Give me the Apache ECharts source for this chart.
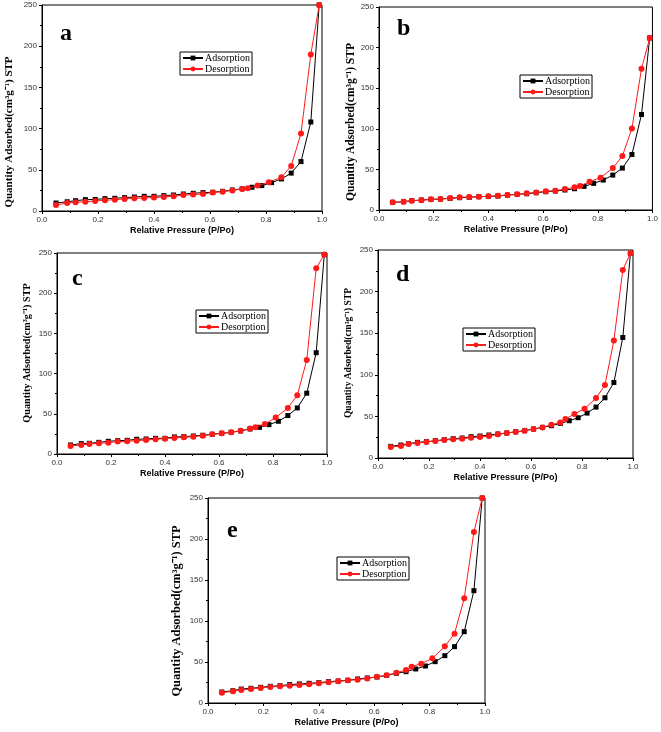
<!DOCTYPE html>
<html><head><meta charset="utf-8">
<script src="https://cdn.jsdelivr.net/npm/echarts@6/dist/echarts.min.js"></script>
<style>html,body{margin:0;padding:0;background:#fff}#c{width:661px;height:732px}</style>
</head><body><div id="c"></div>
<script>
// Relative pressure (P/Po)
const P_ADS = [0.05,0.09,0.12,0.155,0.19,0.225,0.26,0.295,0.33,0.365,0.40,0.435,0.47,0.505,0.54,0.575,0.61,0.645,0.68,0.715,0.75,0.785,0.82,0.855,0.89,0.925,0.96,0.99];
const P_DES = [0.05,0.09,0.12,0.155,0.19,0.225,0.26,0.295,0.33,0.365,0.40,0.435,0.47,0.505,0.54,0.575,0.61,0.645,0.68,0.715,0.735,0.77,0.81,0.855,0.89,0.925,0.96,0.99];

const A_ADS = [9.7,11.2,12.5,13.8,14,15,15.4,16.2,17,17.8,17.8,18.6,19.4,20.6,21.5,22.3,22.7,23.9,25.5,27,28.8,30.8,34.4,38.9,46,60,108,250];
const A_DES = [7.3,9.7,10.5,11.3,12.2,13,13.8,14.6,15.4,15.8,16.4,17,17.8,19.4,19.9,20.7,22.3,23.5,25,26.7,27.5,30.8,34.8,40.9,54.7,94,190,250];

const B_ADS = [9.4,10.2,11.5,12.3,13.1,13.5,14.3,15.2,15.6,16.4,16.8,17.2,18.4,19.3,20,21.3,22.5,23.4,24.6,26.2,29.1,32.8,36.9,43,51.6,68.4,117.6,211.9];
const B_DES = [9.4,10.2,11.5,11.9,13.1,13.5,14.8,15.6,16,16.4,16.8,17.6,18.4,19.3,20.5,21.7,23,23.8,25.8,27.9,29.5,34.8,39.8,51.6,66.4,100.4,174,211.9];

const C_ADS = [11.2,12.9,13.3,14.5,15.8,16.6,17,18.3,18.7,19.5,19.5,21.2,21.6,22.4,23.3,24.5,25.7,27,28.7,31.1,33.2,36.5,40.7,47.8,57.3,75.6,126,248];
const C_DES = [10,11.2,12.5,13.3,14.1,15.4,15.8,16.6,17.4,18.3,19.1,19.9,20.8,21.6,22.8,24.5,25.7,27,29,31.6,33.2,37.4,45.3,57.3,73.1,117,231,248];

const D_ADS = [14,15.6,17.2,18.8,19.6,20.8,22,23.2,24,25.6,26.4,27.6,28.8,30,31.6,32.8,34.8,36.8,38.8,41.6,44.8,48.4,54,61.2,72.4,90.8,144.8,246];
const D_DES = [13.2,14.4,16.8,18,19.2,20.4,21.6,22.4,23.2,24.4,25.2,26.4,28.4,30,31.2,32.8,34.8,36.8,40,42.8,46.8,52.8,59.2,72,87.6,141.2,226,246];

const E_ADS = [13.4,15,17,17.9,19.1,20.3,21.1,22.4,23.2,24,24.8,26,26.8,27.6,29.3,30.5,31.7,33.7,36.2,38.2,41.5,45.1,50.4,57.7,68.7,87,137,250];
const E_DES = [12.6,14.2,15.9,17.1,18.3,19.5,20.3,21.1,22,22.8,24,25.2,26.4,27.6,28.5,30,32.1,33.7,37,40.2,44.3,48,54.5,69.1,84.6,127.6,208.5,250];

const PANEL_LABELS = ['a','b','c','d','e'];
const PANEL_ADS = [A_ADS,B_ADS,C_ADS,D_ADS,E_ADS];
const PANEL_DES = [A_DES,B_DES,C_DES,D_DES,E_DES];
const X_TITLE = 'Relative Pressure (P/Po)';
const Y_TITLE = 'Quantity Adsorbed(cm\u00B3g\u207B\u00B9) STP';
const SERIES_NAMES = ['Adsorption','Desorption'];

// layout (pixels)
const GRIDS = [
  {left:42, top:5, width:280, height:206},
  {left:379, top:7, width:276, height:203},
  {left:57, top:253, width:270, height:201},
  {left:378, top:250, width:255, height:208},
  {left:208, top:498, width:277, height:205}
];
const YTITLE_POS = [[9,132],[351,122],[27,353],[349,353],[177,611]];
const YTITLE_SIZE = [11,11.5,10.2,9.5,12.5];
const LETTER_POS = [[60,22],[397,17],[72,267],[396,263],[227,519]];
const LEGEND_POS = [[180,52],[520,75],[196,310],[463,328],[337,557]];

const SANS = 'Liberation Sans';
const SERIF = 'Liberation Serif';

const grid = [], xAxis = [], yAxis = [], series = [], legend = [], graphic = [];
GRIDS.forEach((g, i) => {
  grid.push(Object.assign({show:true, borderColor:'#000', borderWidth:1, backgroundColor:'#fff'}, g));
  xAxis.push({
    type:'value', gridIndex:i, min:0, max:1, interval:0.2,
    name: X_TITLE, nameLocation:'middle', nameGap:15,
    nameTextStyle:{fontFamily:SANS, fontWeight:'bold', fontSize:9, color:'#000'},
    axisLine:{show:true, lineStyle:{color:'#000', width:1}},
    axisTick:{show:true, inside:false, length:3, lineStyle:{color:'#000'}},
    minorTick:{show:true, splitNumber:2, length:2, lineStyle:{color:'#000'}},
    axisLabel:{fontFamily:SANS, fontSize:8, color:'#333', margin:5, formatter: v => v.toFixed(1)},
    splitLine:{show:false}
  });
  yAxis.push({
    type:'value', gridIndex:i, min:0, max:250, interval:50,
    axisLine:{show:true, lineStyle:{color:'#000', width:1}},
    axisTick:{show:true, inside:false, length:3, lineStyle:{color:'#000'}},
    minorTick:{show:true, splitNumber:2, length:2, lineStyle:{color:'#000'}},
    axisLabel:{fontFamily:SANS, fontSize:8, color:'#333', margin:5},
    splitLine:{show:false}
  });
  series.push({
    name:SERIES_NAMES[0], type:'line', xAxisIndex:i, yAxisIndex:i,
    data: P_ADS.map((p,k)=>[p, PANEL_ADS[i][k]]),
    symbol:'rect', symbolSize:5, showSymbol:true,
    lineStyle:{color:'#000', width:1}, itemStyle:{color:'#000'}, z:2, animation:false
  });
  series.push({
    name:SERIES_NAMES[1], type:'line', xAxisIndex:i, yAxisIndex:i,
    data: P_DES.map((p,k)=>[p, PANEL_DES[i][k]]),
    symbol:'circle', symbolSize:6, showSymbol:true,
    lineStyle:{color:'#ff1a1a', width:1}, itemStyle:{color:'#ff1a1a'}, z:3, animation:false
  });
  legend.push({
    left:LEGEND_POS[i][0], top:LEGEND_POS[i][1], orient:'vertical',
    data:SERIES_NAMES, selectedMode:false,
    borderColor:'#000', borderWidth:1, padding:[1,2,1,2], itemGap:1,
    itemWidth:20, itemHeight:6,
    textStyle:{fontFamily:SERIF, fontSize:10, color:'#000', padding:[0,0,0,-3]}
  });
  graphic.push({
    type:'text', left:LETTER_POS[i][0], top:LETTER_POS[i][1],
    style:{text:PANEL_LABELS[i], font:'bold 24px "Liberation Serif"', fill:'#000'}
  });
  graphic.push({
    type:'text', x:YTITLE_POS[i][0], y:YTITLE_POS[i][1], rotation:Math.PI/2,
    style:{text:Y_TITLE, font:'bold ' + YTITLE_SIZE[i] + 'px "Liberation Serif"', fill:'#000',
           align:'center', verticalAlign:'middle'}
  });
});

const chart = echarts.init(document.getElementById('c'), null, {renderer:'canvas'});
chart.setOption({animation:false, backgroundColor:'#fff', grid, xAxis, yAxis, series, legend, graphic});
</script>
</body></html>
